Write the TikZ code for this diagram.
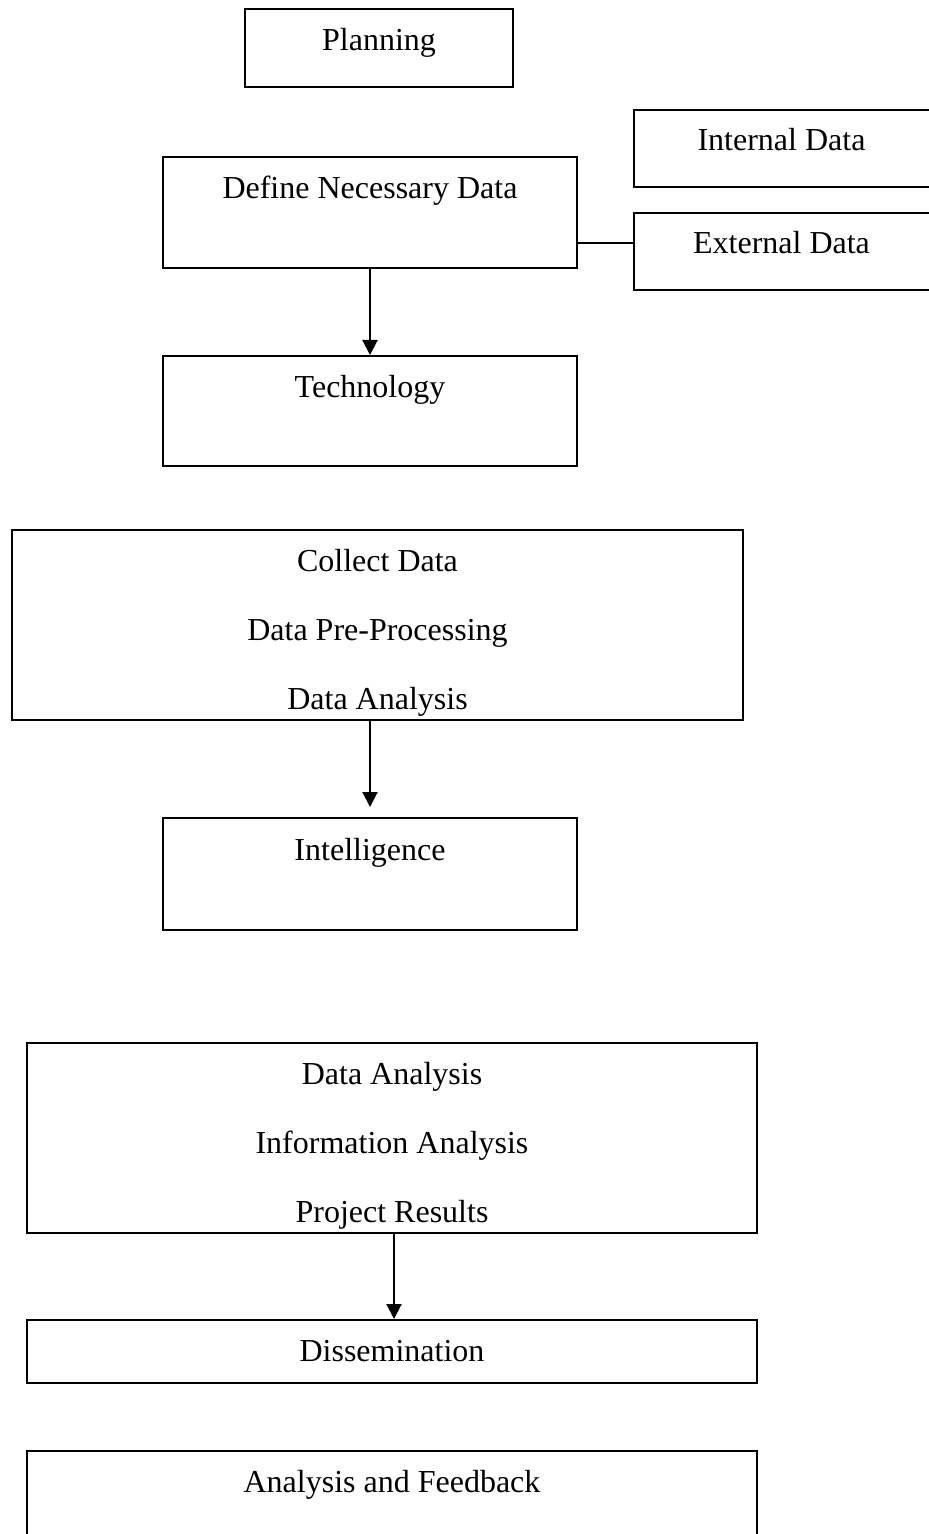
\documentclass[tikz,border=0pt]{standalone}
\usepackage{fontspec}
\setmainfont{Liberation Serif}
\usetikzlibrary{arrows.meta}
\tikzset{
  box/.style={draw,line width=1pt,inner sep=0pt},
  txt/.style={anchor=base,inner sep=0pt,font=\fontsize{16}{19}\selectfont},
  arr/.style={line width=1pt,-{Triangle[length=7.5pt,width=7.5pt]}}
}
\begin{document}
\begin{tikzpicture}[x=0.5pt,y=-0.5pt]
  \useasboundingbox (0,0) rectangle (928,1534);
  \node[box,minimum width=134pt,minimum height=39pt] (plan) at (379,48) {};
  \node[box,minimum width=207pt,minimum height=55.5pt] (define) at (370,212.5) {};
  \node[box,minimum width=149pt,minimum height=38.5pt] (internal) at (782.5,148.5) {};
  \node[box,minimum width=149pt,minimum height=38.5pt] (external) at (782.5,251.5) {};
  \node[box,minimum width=207pt,minimum height=55pt] (tech) at (370,411) {};
  \node[box,minimum width=365.5pt,minimum height=95pt] (collect) at (377.5,625) {};
  \node[box,minimum width=207pt,minimum height=56pt] (intel) at (370,874) {};
  \node[box,minimum width=365pt,minimum height=95pt] (dataan) at (392,1138) {};
  \node[box,minimum width=365pt,minimum height=31.5pt] (dissem) at (392,1351.5) {};
  \node[box,minimum width=365pt,minimum height=64.5pt] (feedback) at (392,1515.5) {};

  \node[txt] (plan-t) at ([yshift=-21.5pt]plan.north) {Planning};
  \node[txt] (define-t) at ([yshift=-21.5pt]define.north) {Define Necessary Data};
  \node[txt] (internal-t) at ([xshift=-0.5pt,yshift=-21pt]internal.north) {Internal Data};
  \node[txt] (external-t) at ([xshift=-0.5pt,yshift=-21pt]external.north) {External Data};
  \node[txt] (tech-t) at ([yshift=-21.5pt]tech.north) {Technology};
  \foreach \t [count=\i from 0] in {Collect Data,Data Pre-Processing,Data Analysis}
    \node[txt] (collect-t\i) at ([yshift={-21pt-34.5pt*\i}]collect.north) {\t};
  \node[txt] (intel-t) at ([yshift=-21.5pt]intel.north) {Intelligence};
  \foreach \t [count=\i from 0] in {Data Analysis,Information Analysis,Project Results}
    \node[txt] (dataan-t\i) at ([yshift={-21pt-34.5pt*\i}]dataan.north) {\t};
  \node[txt] (dissem-t) at ([yshift=-21pt]dissem.north) {Dissemination};
  \node[txt] (feedback-t) at ([yshift=-21pt]feedback.north) {Analysis and Feedback};

  \draw[line width=1pt] ([yshift=-15.25pt]define.east) -- ([yshift=-15.25pt]define.east -| external.west);
  \draw[arr] (define) -- (tech);
  \draw[arr] (collect.south -| intel.north) -- ([yshift=5pt]intel.north);
  \draw[arr] ([xshift=1pt]dataan.south) -- ([xshift=1pt]dissem.north);
\end{tikzpicture}
\end{document}
